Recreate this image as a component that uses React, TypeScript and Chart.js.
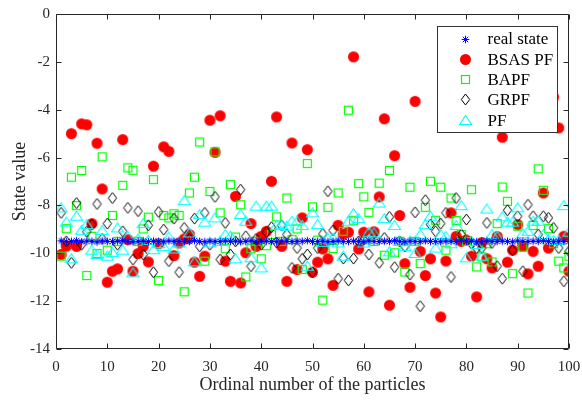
import React, { useEffect, useRef } from 'react';
import { Chart, registerables } from 'chart.js';
Chart.register(...registerables);

const FONT = "'Liberation Serif', 'Times New Roman', serif";

const seriesLabels = ['real state', 'BSAS PF', 'BAPF', 'GRPF', 'PF'];
const xTicks = [0, 10, 20, 30, 40, 50, 60, 70, 80, 90, 100];
const yTicks = [-14, -12, -10, -8, -6, -4, -2, 0];

const realState = [
  -9.48, -9.51, -9.5, -9.47, -9.52, -9.49, -9.5, -9.53, -9.48, -9.5,
  -9.51, -9.49, -9.47, -9.5, -9.52, -9.5, -9.48, -9.51, -9.49, -9.5,
  -9.52, -9.48, -9.5, -9.49, -9.51, -9.5, -9.47, -9.5, -9.52, -9.49,
  -9.5, -9.51, -9.48, -9.5, -9.49, -9.52, -9.5, -9.48, -9.51, -9.5,
  -9.49, -9.5, -9.52, -9.48, -9.5, -9.51, -9.49, -9.5, -9.47, -9.51,
  -9.5, -9.49, -9.52, -9.5, -9.48, -9.5, -9.51, -9.49, -9.5, -9.52,
  -9.48, -9.5, -9.51, -9.49, -9.5, -9.47, -9.5, -9.52, -9.49, -9.5,
  -9.51, -9.48, -9.5, -9.5, -9.52, -9.49, -9.5, -9.51, -9.48, -9.5,
  -9.49, -9.52, -9.5, -9.48, -9.51, -9.5, -9.49, -9.5, -9.52, -9.48,
  -9.5, -9.51, -9.49, -9.5, -9.47, -9.5, -9.52, -9.49, -9.5, -9.51,
];

const bsasPF = [
  -10.05, -9.7, -5.0, -9.71, -4.59, -4.63, -8.76, -5.4, -7.31, -11.21,
  -10.75, -10.65, -5.25, -9.43, -10.75, -10.01, -9.71, -10.36, -6.36, -9.6,
  -5.55, -5.74, -10.1, -9.57, -9.4, -9.22, -10.37, -10.96, -10.12, -4.44,
  -5.78, -4.25, -10.33, -11.17, -7.62, -11.24, -9.98, -8.76, -9.71, -9.29,
  -9.08, -6.99, -4.3, -9.71, -11.17, -5.39, -10.68, -8.52, -5.67, -10.79,
  -10.37, -9.82, -10.23, -11.34, -8.83, -9.2, -9.12, -1.79, -9.82, -9.12,
  -11.61, -9.1, -7.64, -4.38, -12.17, -5.92, -8.42, -10.43, -11.42, -3.65,
  -9.92, -10.93, -10.23, -11.66, -12.66, -10.32, -8.31, -9.29, -9.5, -9.45,
  -10.12, -11.82, -9.55, -10.23, -10.61, -9.3, -5.15, -10.37, -9.87, -8.8,
  -9.71, -10.86, -9.92, -10.54, -7.48, -9.78, -3.47, -4.76, -9.29, -10.75,
];

const bapf = [
  -10.12, -8.97, -6.82, -8.01, -6.54, -10.93, -9.29, -10.01, -5.97, -9.87,
  -8.42, -9.5, -7.16, -6.43, -6.53, -9.5, -8.98, -8.49, -6.92, -11.14,
  -8.42, -8.52, -8.35, -8.42, -11.61, -7.48, -6.82, -5.35, -10.33, -7.42,
  -5.76, -8.31, -9.81, -7.13, -9.32, -7.97, -10.99, -9.81, -9.5, -10.23,
  -9.68, -9.22, -8.48, -9.5, -7.69, -9.43, -8.98, -10.68, -6.25, -8.06,
  -9.45, -11.96, -8.08, -9.8, -7.48, -9.08, -4.02, -8.62, -7.09, -7.64,
  -8.29, -9.5, -7.07, -10.08, -6.54, -9.98, -9.5, -10.78, -7.24, -9.5,
  -10.43, -8.08, -6.99, -8.62, -7.24, -9.87, -7.69, -8.63, -9.22, -9.5,
  -7.34, -10.57, -10.15, -9.6, -10.36, -8.76, -7.23, -7.83, -10.85, -8.87,
  -9.75, -11.66, -8.84, -6.47, -7.37, -8.97, -9.6, -10.33, -10.61, -10.12,
];

const grpf = [
  -8.31, -9.5, -10.4, -7.9, -9.64, -9.1, -8.8, -7.94, -9.4, -8.76,
  -7.69, -9.64, -9.08, -8.1, -10.26, -8.24, -10.05, -8.83, -10.79, -8.27,
  -9.01, -10.33, -8.55, -10.79, -8.94, -9.4, -8.55, -9.71, -8.31, -9.64,
  -7.64, -10.26, -8.73, -10.05, -9.5, -7.34, -9.29, -10.54, -9.4, -9.64,
  -9.12, -8.91, -9.55, -8.84, -9.22, -10.61, -9.78, -10.23, -10.05, -10.79,
  -9.78, -9.19, -7.41, -9.04, -11.06, -10.22, -11.13, -10.22, -9.5, -9.43,
  -10.05, -9.18, -10.4, -9.36, -8.48, -10.58, -9.5, -9.71, -10.89, -8.29,
  -12.21, -7.78, -8.8, -9.08, -8.76, -8.31, -10.99, -7.69, -9.22, -8.59,
  -9.6, -9.78, -9.78, -8.73, -9.57, -10.54, -11.06, -8.2, -9.87, -8.45,
  -10.75, -7.97, -8.45, -9.22, -8.45, -8.52, -8.94, -9.78, -11.17, -9.92,
];

const pf = [
  -8.1, -8.7, -10.23, -8.45, -9.04, -8.8, -9.87, -10.05, -9.05, -10.12,
  -9.96, -8.94, -9.87, -9.3, -10.82, -9.4, -8.76, -9.46, -9.85, -9.6,
  -9.71, -9.32, -9.82, -9.57, -7.8, -9.15, -10.36, -8.38, -8.7, -9.57,
  -8.52, -9.5, -9.22, -9.29, -10.23, -8.38, -8.66, -10.19, -8.03, -10.61,
  -8.03, -8.03, -8.84, -8.8, -8.87, -8.66, -8.66, -8.84, -10.54, -8.31,
  -8.8, -9.54, -9.36, -9.36, -9.57, -10.12, -8.66, -8.34, -8.55, -9.57,
  -9.12, -9.15, -7.9, -8.55, -9.94, -8.84, -9.5, -9.71, -9.5, -10.01,
  -9.22, -8.8, -8.45, -9.78, -9.22, -9.3, -9.6, -8.84, -8.01, -10.19,
  -9.5, -9.64, -10.12, -8.15, -9.22, -9.29, -8.48, -8.7, -8.7, -8.1,
  -9.18, -9.08, -8.66, -8.66, -9.22, -9.43, -9.46, -9.46, -8.01, -9.12,
];

function makeMarker(kind: string): HTMLCanvasElement {
  const c = document.createElement('canvas');
  c.width = 15;
  c.height = 15;
  const g = c.getContext('2d')!;
  const cx = 7.5, cy = 7.5;
  g.lineWidth = 1;
  if (kind === 'asterisk') {
    g.strokeStyle = '#0000ff';
    g.beginPath();
    const r = 3.8, d = 2.7;
    g.moveTo(cx - r, cy); g.lineTo(cx + r, cy);
    g.moveTo(cx, cy - r); g.lineTo(cx, cy + r);
    g.moveTo(cx - d, cy - d); g.lineTo(cx + d, cy + d);
    g.moveTo(cx - d, cy + d); g.lineTo(cx + d, cy - d);
    g.stroke();
  } else if (kind === 'circle') {
    g.fillStyle = '#ff0000';
    g.beginPath();
    g.arc(cx, cy, 5.5, 0, Math.PI * 2);
    g.fill();
  } else if (kind === 'square') {
    g.strokeStyle = '#00ff00';
    g.lineWidth = 1.2;
    g.strokeRect(3.5, 3.5, 8, 8);
  } else if (kind === 'diamond') {
    g.strokeStyle = '#000000';
    g.beginPath();
    g.moveTo(cx, cy - 5.5);
    g.lineTo(cx + 4.2, cy);
    g.lineTo(cx, cy + 5.5);
    g.lineTo(cx - 4.2, cy);
    g.closePath();
    g.stroke();
  } else if (kind === 'triangle') {
    g.strokeStyle = '#00ffff';
    g.lineWidth = 1.1;
    g.beginPath();
    g.moveTo(cx, cy - 5);
    g.lineTo(cx + 6, cy + 4);
    g.lineTo(cx - 6, cy + 4);
    g.closePath();
    g.stroke();
  }
  return c;
}

export default function App() {
  const ref = useRef<HTMLCanvasElement | null>(null);

  useEffect(() => {
    if (!ref.current) return;
    const markers = [
      makeMarker('asterisk'),
      makeMarker('circle'),
      makeMarker('square'),
      makeMarker('diamond'),
      makeMarker('triangle'),
    ];
    const values = [realState, bsasPF, bapf, grpf, pf];
    const drawOrder = [0, 4, 3, 2, 1];

    const frameLegend = {
      id: 'frameLegend',
      afterDatasetsDraw(chart: any) {
        const { ctx, chartArea } = chart;
        const { left, right, top, bottom } = chartArea;
        ctx.save();
        ctx.strokeStyle = '#262626';
        ctx.lineWidth = 1;
        const L = Math.round(left) + 0.5, R = Math.round(right) - 0.5;
        const T = Math.round(top) + 0.5, B = Math.round(bottom) - 0.5;
        ctx.beginPath();
        ctx.rect(L, T, R - L, B - T);
        const tl = 5;
        const xs = chart.scales.x;
        xs.ticks.forEach((t: any) => {
          const px = Math.round(xs.getPixelForValue(t.value)) + 0.5;
          ctx.moveTo(px, B); ctx.lineTo(px, B - tl);
          ctx.moveTo(px, T); ctx.lineTo(px, T + tl);
        });
        const ys = chart.scales.y;
        ys.ticks.forEach((t: any) => {
          const py = Math.round(ys.getPixelForValue(t.value)) + 0.5;
          ctx.moveTo(L, py); ctx.lineTo(L + tl, py);
          ctx.moveTo(R, py); ctx.lineTo(R - tl, py);
        });
        ctx.stroke();

        // legend
        const bx = Math.round(right) - 131.5;
        const by = Math.round(top) + 12.5;
        const bw = 120, bh = 106;
        ctx.fillStyle = '#ffffff';
        ctx.fillRect(bx, by, bw, bh);
        ctx.strokeStyle = '#333333';
        ctx.strokeRect(bx, by, bw, bh);
        ctx.font = `17px ${FONT}`;
        ctx.fillStyle = '#000000';
        ctx.textBaseline = 'middle';
        ctx.textAlign = 'left';
        chart.data.datasets.forEach((ds: any, i: number) => {
          const y = by + 12.5 + i * 20.3;
          const m = markers[i];
          ctx.drawImage(m, Math.round(bx + 28 - m.width / 2), Math.round(y - m.height / 2));
          ctx.fillText(ds.label, bx + 50, y + 1);
        });
        ctx.restore();
      },
    };

    const chart = new Chart(ref.current, {
      type: 'scatter',
      data: {
        datasets: seriesLabels.map((label, i) => ({
          label,
          data: values[i].map((v, k) => ({ x: k + 1, y: v })),
          pointStyle: markers[i] as any,
          pointRadius: 5,
          order: drawOrder[i],
          showLine: false,
        })),
      },
      options: {
        animation: false,
        responsive: true,
        maintainAspectRatio: false,
        layout: { padding: { left: 0, top: 14, right: 13, bottom: 0 } },
        plugins: { legend: { display: false }, tooltip: { enabled: false } },
        scales: {
          x: {
            type: 'linear',
            min: 0,
            max: 100,
            afterBuildTicks: (s: any) => { s.ticks = xTicks.map((v) => ({ value: v })); },
            afterFit: (s: any) => { s.height = 51; s.paddingLeft = 0; s.paddingRight = 0; },
            grid: { display: false, drawTicks: false },
            border: { display: false },
            ticks: { padding: 9, color: '#262626', font: { family: FONT, size: 15 }, maxRotation: 0 },
            title: {
              display: true,
              text: 'Ordinal number of the particles',
              color: '#262626',
              font: { family: FONT, size: 18 },
              padding: { top: 0, bottom: 4 },
            },
          },
          y: {
            type: 'linear',
            min: -14,
            max: 0,
            afterBuildTicks: (s: any) => { s.ticks = yTicks.map((v) => ({ value: v })); },
            afterFit: (s: any) => { s.width = 56; s.paddingTop = 0; s.paddingBottom = 0; },
            grid: { display: false, drawTicks: false },
            border: { display: false },
            ticks: { padding: 6, color: '#262626', font: { family: FONT, size: 15 } },
            title: {
              display: true,
              text: 'State value',
              color: '#262626',
              font: { family: FONT, size: 18 },
              padding: { top: 9, bottom: 0 },
            },
          },
        },
      },
      plugins: [frameLegend],
    });
    return () => chart.destroy();
  }, []);

  return (
    <div style={{ position: 'fixed', left: 0, top: 0, width: 582, height: 400, background: '#fff' }}>
      <canvas ref={ref} />
    </div>
  );
}
